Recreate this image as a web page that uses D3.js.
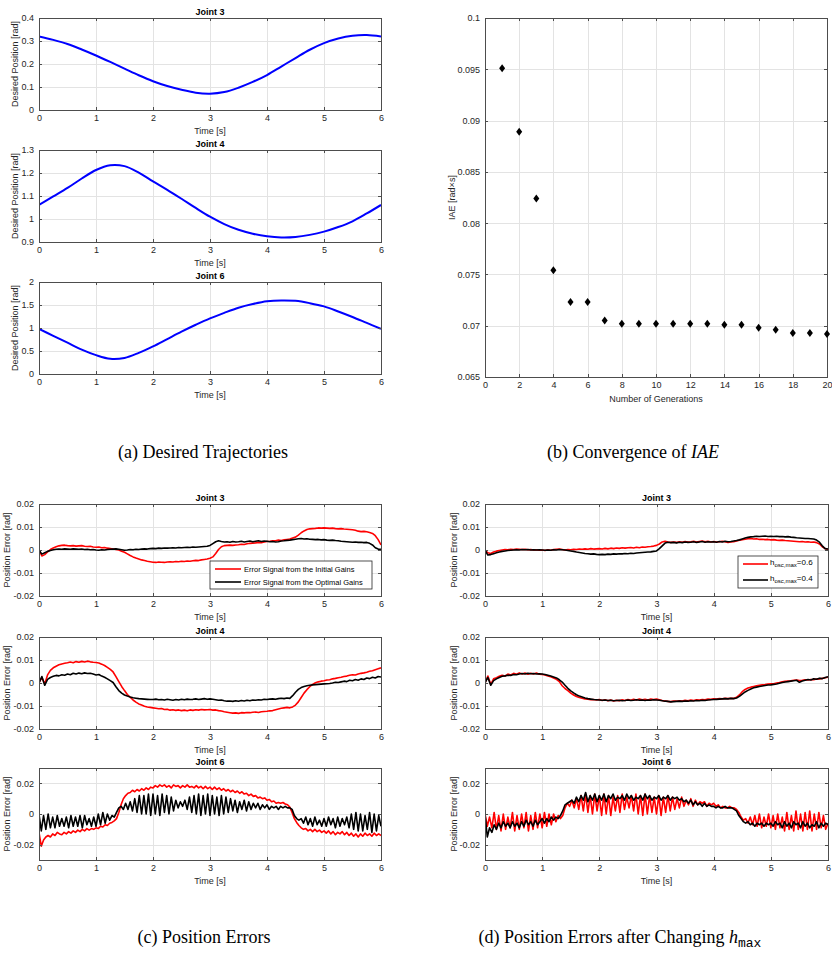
<!DOCTYPE html>
<html>
<head>
<meta charset="utf-8">
<script src="https://cdn.jsdelivr.net/npm/d3@7"></script>
<style>
body { margin: 0; background: #fff; }
svg { display: block; font-family: "Liberation Sans", Arial, sans-serif; }
.grid line { stroke: #e3e3e3; shape-rendering: crispEdges; }
.grid path { display: none; }
.ax path, .ax line { stroke: #4d4d4d; shape-rendering: crispEdges; }
.ax text { fill: #262626; font-size: 9px; }
</style>
</head>
<body>
<svg id="fig" width="832" height="956"></svg>
<script>
// ---- tick labels ----
const timeTicks = [0, 1, 2, 3, 4, 5, 6];
const ticksJ3 = [0, 0.1, 0.2, 0.3, 0.4];
const ticksJ4 = [0.9, 1, 1.1, 1.2, 1.3];
const ticksJ6 = [0, 0.5, 1, 1.5, 2];
const ticksErr = [-0.02, -0.01, 0, 0.01, 0.02];
const ticksErr6 = [-0.02, 0, 0.02];
const genTicks = [0, 2, 4, 6, 8, 10, 12, 14, 16, 18, 20];
const iaeTicks = [0.065, 0.07, 0.075, 0.08, 0.085, 0.09, 0.095, 0.1];

// ---- (a) desired trajectories [rad], sampled every 0.25 s ----
const traj3 = [0.320, 0.305, 0.287, 0.263, 0.237, 0.209, 0.180, 0.151, 0.125, 0.104, 0.088, 0.075, 0.071,
               0.078, 0.097, 0.122, 0.152, 0.189, 0.226, 0.262, 0.291, 0.311, 0.323, 0.326, 0.320];
const traj4 = [1.061, 1.098, 1.135, 1.176, 1.213, 1.234, 1.230, 1.202, 1.164, 1.127, 1.088, 1.048, 1.010,
               0.978, 0.953, 0.936, 0.925, 0.920, 0.922, 0.931, 0.945, 0.965, 0.990, 1.024, 1.061];
const traj6 = [0.98, 0.83, 0.68, 0.53, 0.41, 0.33, 0.35, 0.46, 0.60, 0.76, 0.92, 1.07, 1.21,
               1.33, 1.44, 1.52, 1.58, 1.60, 1.59, 1.54, 1.47, 1.36, 1.24, 1.11, 0.98];

// ---- (b) IAE per generation [rad x s] ----
const generations = d3.range(1, 21);
const iaeValues = [0.0951, 0.0889, 0.0824, 0.0754, 0.0723, 0.0723, 0.0705, 0.0702, 0.0702, 0.0702,
                   0.0702, 0.0702, 0.0702, 0.0701, 0.0701, 0.0698, 0.0696, 0.0693, 0.0693, 0.0692];

// ---- (c)/(d) position errors, in mrad; joints 3 & 4 every 0.05 s ----
const errC3Init = [0, -2.6, -2.0, -0.8, 0.2, 0.9, 1.4, 1.8, 2.0, 2.1, 1.9, 1.8, 1.9, 1.7, 1.8, 1.9, 1.6, 1.5, 1.6, 1.3,
  1.2, 1.3, 1.0, 1.1, 0.8, 0.6, 0.4, 0.2, 0.0, -0.5, -1.0, -1.7, -2.4, -3.0, -3.5, -3.9, -4.3, -4.6, -4.9, -5.1,
  -5.3, -5.4, -5.2, -5.3, -5.4, -5.2, -5.1, -5.2, -5.0, -5.1, -4.9, -5.0, -4.8, -4.9, -4.7, -4.5, -4.6, -4.3, -4.1, -3.9,
  -3.6, -3.0, -1.5, 0.2, 1.4, 1.9, 2.0, 2.1, 2.0, 2.2, 2.3, 2.5, 2.4, 2.7, 2.9, 3.0, 3.1, 3.3, 3.2, 3.5,
  3.7, 3.8, 4.0, 4.0, 4.3, 4.1, 4.4, 4.6, 4.8, 5.2, 5.6, 6.5, 7.5, 8.3, 8.9, 9.2, 9.3, 9.4, 9.6, 9.5,
  9.6, 9.5, 9.4, 9.5, 9.3, 9.2, 9.3, 9.1, 9.0, 8.9, 8.8, 8.6, 8.2, 8.0, 8.1, 7.9, 7.6, 7.2, 6.2, 4.5,
  2.2];
const errC3Opt = [0, -1.8, -1.2, -0.6, -0.2, 0.1, 0.3, 0.4, 0.3, 0.5, 0.4, 0.3, 0.5, 0.4, 0.3, 0.4, 0.2, 0.3, 0.1, 0.2,
  0.0, -0.1, 0.1, 0.0, 0.2, 0.3, 0.4, 0.5, 0.3, 0.1, -0.1, 0.0, 0.2, 0.1, 0.3, 0.2, 0.4, 0.5, 0.4, 0.6,
  0.7, 0.6, 0.8, 0.7, 0.9, 0.8, 0.9, 1.0, 0.9, 1.1, 1.0, 1.1, 1.2, 1.1, 1.3, 1.2, 1.3, 1.4, 1.5, 1.6,
  2.0, 2.8, 3.6, 4.0, 3.7, 3.5, 3.6, 3.4, 3.7, 3.5, 3.6, 3.8, 3.5, 3.7, 3.9, 3.6, 3.8, 4.0, 3.7, 3.9,
  3.8, 3.6, 3.7, 3.5, 3.6, 3.9, 4.0, 4.2, 4.3, 4.5, 4.7, 4.9, 5.0, 4.8, 4.9, 4.7, 4.6, 4.5, 4.6, 4.4,
  4.5, 4.3, 4.2, 4.3, 4.1, 4.0, 3.8, 3.7, 3.6, 3.5, 3.4, 3.5, 3.3, 3.4, 3.2, 3.3, 2.9, 2.2, 1.0, 0.4,
  0.3];
const errC4Init = [0, 2.5, -0.4, 3.5, 5.5, 6.6, 7.3, 7.9, 8.3, 8.6, 8.8, 9.1, 8.8, 9.3, 9.0, 9.4, 9.1, 9.5, 9.2, 9.0,
  8.9, 8.7, 8.2, 7.6, 6.8, 5.9, 4.8, 2.8, 0.6, -1.5, -3.3, -5.0, -6.2, -7.4, -8.3, -9.1, -9.6, -10.1, -10.4, -10.6,
  -10.8, -11.0, -11.2, -11.1, -11.5, -11.4, -11.8, -11.6, -11.9, -11.7, -12.0, -11.8, -12.1, -11.7, -11.9, -11.6, -11.8, -11.5, -11.7, -11.6,
  -11.5, -11.8, -11.7, -12.0, -12.2, -12.5, -12.7, -12.9, -13.1, -13.0, -13.2, -12.9, -13.0, -12.8, -12.9, -12.7, -12.6, -12.8, -12.5, -12.4,
  -12.3, -12.1, -12.0, -11.6, -11.3, -11.0, -10.8, -10.6, -10.8, -10.4, -9.6, -8.2, -6.3, -4.4, -2.9, -1.6, -0.6, 0.1, 0.5, 0.8,
  1.0, 1.3, 1.4, 1.8, 2.0, 2.3, 2.5, 2.8, 3.0, 3.4, 3.6, 3.5, 3.9, 4.2, 4.4, 4.7, 5.1, 5.3, 5.8, 6.2,
  6.6];
const errC4Opt = [0, 2.8, -1.0, 1.6, 2.4, 2.9, 3.3, 3.1, 3.6, 3.4, 3.9, 3.6, 4.2, 3.9, 4.3, 4.0, 4.4, 4.1, 4.2, 3.9,
  3.5, 3.7, 3.0, 2.5, 1.8, 1.0, 0.2, -1.6, -3.3, -4.4, -5.2, -5.7, -6.1, -6.4, -6.6, -6.8, -6.9, -7.0, -7.1, -7.2,
  -7.2, -7.0, -7.3, -7.2, -7.4, -7.1, -7.3, -7.5, -7.2, -7.4, -7.1, -7.3, -7.0, -7.2, -7.1, -6.9, -7.2, -7.0, -6.8, -7.1,
  -6.9, -7.1, -7.3, -7.5, -7.4, -7.7, -7.9, -7.8, -8.0, -7.7, -7.9, -7.6, -7.8, -7.5, -7.7, -7.4, -7.5, -7.3, -7.4, -7.1,
  -7.2, -7.0, -6.9, -7.1, -6.8, -6.6, -6.8, -6.5, -6.7, -5.5, -4.0, -2.8, -2.0, -1.5, -1.2, -1.0, -0.8, -0.7, -0.6, -0.5,
  -0.4, -0.3, -0.2, 0.0, 0.3, 0.2, 0.5, 0.8, 0.6, 1.2, 1.0, 1.5, 1.2, 1.8, 1.5, 2.2, 1.9, 2.5, 2.2, 2.8,
  2.6];
const errD3H06 = [0, -1.2, -1.5, -0.9, -0.5, -0.2, 0.0, 0.2, 0.1, 0.3, 0.2, 0.4, 0.3, 0.2, 0.3, 0.1, 0.2, 0.0, 0.1, -0.1,
  0.0, -0.2, 0.1, -0.1, 0.2, 0.3, 0.4, 0.2, 0.0, 0.2, 0.1, 0.3, 0.2, 0.4, 0.3, 0.5, 0.3, 0.6, 0.4, 0.5,
  0.6, 0.4, 0.7, 0.5, 0.8, 0.6, 0.9, 0.7, 1.0, 0.8, 1.0, 1.1, 0.9, 1.2, 1.0, 1.3, 1.2, 1.4, 1.5, 1.7,
  2.0, 2.6, 3.5, 3.8, 3.5, 3.3, 3.5, 3.3, 3.6, 3.4, 3.7, 3.5, 3.6, 3.8, 3.5, 3.7, 3.9, 3.6, 3.8, 3.5,
  3.7, 3.5, 3.6, 3.8, 3.6, 3.3, 3.5, 3.6, 3.9, 4.2, 4.5, 4.7, 4.9, 5.0, 4.8, 4.9, 4.6, 4.7, 4.5, 4.6,
  4.4, 4.5, 4.3, 4.2, 4.3, 4.1, 4.0, 3.9, 3.8, 3.7, 3.6, 3.7, 3.5, 3.6, 3.4, 3.5, 3.2, 2.6, 1.4, 0.6,
  0.3];
const errD3H04 = [0, -2.2, -2.0, -1.6, -1.2, -0.9, -0.6, -0.4, -0.2, -0.1, 0.0, 0.1, 0.0, 0.2, 0.1, 0.2, 0.0, 0.1, 0.0, 0.1,
  0.0, -0.1, 0.0, -0.1, 0.1, 0.0, 0.2, 0.1, 0.0, -0.2, -0.4, -0.6, -0.9, -1.1, -1.3, -1.5, -1.6, -1.8, -1.7, -1.9,
  -2.0, -1.9, -2.0, -1.8, -1.9, -1.7, -1.8, -1.6, -1.7, -1.5, -1.6, -1.4, -1.5, -1.3, -1.2, -1.1, -1.0, -0.9, -0.8, -0.6,
  -0.4, 0.6, 1.8, 3.0, 3.4, 3.2, 3.3, 3.1, 3.4, 3.2, 3.5, 3.3, 3.4, 3.6, 3.3, 3.5, 3.7, 3.4, 3.6, 3.5,
  3.6, 3.4, 3.7, 3.5, 3.8, 3.6, 3.7, 3.9, 4.1, 4.4, 4.8, 5.2, 5.5, 5.7, 5.8, 6.0, 5.9, 6.0, 6.1, 5.9,
  6.0, 5.9, 6.0, 5.8, 5.9, 5.7, 5.8, 5.6, 5.5, 5.3, 5.2, 5.1, 5.0, 5.0, 4.9, 4.8, 4.3, 3.4, 1.8, 0.6,
  0.4];
const errD4H06 = [0, 3.0, -0.6, 1.8, 2.3, 2.9, 3.4, 3.0, 3.9, 3.5, 4.2, 3.8, 4.4, 3.9, 4.3, 3.8, 4.2, 3.9, 4.3, 3.8,
  3.7, 3.5, 3.1, 2.7, 2.2, 1.6, 0.6, -1.2, -2.4, -3.3, -4.4, -5.2, -5.9, -6.3, -6.6, -6.9, -7.1, -7.3, -7.2, -7.4,
  -7.2, -7.6, -7.3, -7.7, -7.4, -7.8, -7.5, -7.7, -7.3, -7.6, -7.2, -7.5, -7.1, -7.4, -7.0, -7.3, -7.1, -7.4, -7.0, -7.2,
  -7.0, -7.3, -7.6, -7.8, -8.0, -8.1, -7.8, -7.9, -7.7, -7.8, -7.5, -7.7, -7.4, -7.6, -7.3, -7.4, -7.2, -7.3, -7.0, -7.1,
  -6.9, -7.0, -6.8, -6.9, -6.6, -6.8, -6.6, -6.7, -6.2, -5.2, -3.8, -2.8, -2.2, -1.8, -1.5, -1.2, -1.0, -0.8, -0.7, -0.5,
  -0.4, -0.3, 0.0, 0.2, 0.5, 0.7, 0.9, 1.0, 1.2, 1.3, 1.1, 1.2, 1.4, 1.3, 1.5, 1.4, 1.7, 1.8, 2.0, 2.3,
  2.5];
const errD4H04 = [0, 2.4, -1.0, 1.0, 1.8, 2.4, 2.9, 3.1, 3.4, 3.3, 3.7, 3.6, 3.9, 4.1, 3.9, 4.2, 4.0, 4.1, 3.9, 4.0,
  3.9, 3.7, 3.4, 3.0, 2.6, 2.2, 1.4, 0.4, -1.0, -2.3, -3.4, -4.3, -5.1, -5.7, -6.1, -6.5, -6.8, -7.0, -7.2, -7.3,
  -7.4, -7.5, -7.4, -7.6, -7.5, -7.7, -7.6, -7.5, -7.7, -7.6, -7.4, -7.6, -7.5, -7.3, -7.5, -7.4, -7.6, -7.4, -7.5, -7.3,
  -7.4, -7.5, -7.7, -7.9, -8.0, -8.2, -8.1, -8.0, -7.9, -8.0, -7.8, -7.9, -7.7, -7.8, -7.6, -7.7, -7.5, -7.6, -7.4, -7.3,
  -7.2, -7.1, -7.0, -6.9, -6.8, -6.9, -6.7, -6.8, -6.5, -5.8, -4.8, -3.9, -3.2, -2.6, -2.1, -1.8, -1.5, -1.3, -1.1, -0.9,
  -0.8, -0.6, -0.4, -0.1, 0.2, 0.4, 0.6, 0.8, 1.0, 1.2, 0.3, 0.9, 1.2, 1.5, 1.3, 1.8, 1.6, 2.1, 1.9, 2.4,
  2.7];

// joint 6 every 0.04 s (mrad)
const errC6Init = [-12, -21, -17, -15, -14, -15, -13, -14, -12, -13, -13.5, -12, -13, -11.5, -12.5, -11, -12, -10.5, -11.5, -10, -11, -9.5, -10.5, -9.5, -10,
  -9, -9.5, -8, -8.5, -7, -7.5, -6, -5.5, -4.5, -3, 1, 6, 10, 12, 13.5, 14, 15.5, 14.5, 16, 15, 16.5, 15.5, 17, 16, 17.5,
  17, 18.5, 17.5, 19, 18, 19, 17.5, 18.5, 17, 19, 18, 18.5, 17, 18.5, 17.5, 19, 17.5, 18, 17, 18.5, 17, 18, 16.5, 18, 16.5,
  17.5, 16, 17.5, 16, 17, 15.5, 16.5, 15, 16, 14.5, 15.5, 14, 15, 13.5, 14.5, 13, 13.5, 12, 13, 11.5, 12, 10.5, 11, 10, 10.5,
  9, 9.5, 8, 8.5, 7, 7.5, 7, 7.5, 6.5, 6, 4.5, 1, -3, -5.5, -7.5, -9, -10, -9.5, -11, -10, -11.5, -10, -11.5, -10.5, -12,
  -11, -12.5, -11, -13, -11.5, -13.5, -12, -13, -11.5, -13.5, -12, -14, -12.5, -14.5, -13, -15, -13, -14.5, -12.5, -14, -13, -14.5, -12.5, -14, -13,
  -14];
const errC6Opt = [0, -11, -1, -10, 0, -9, -2, -9, -1, -8, -3, -8, -2, -9, -1, -8, -2, -8, -1, -9, -1, -7, -3, -8, -2,
  -8, 0, -7, 1, -6, 0, -4, -1, -2, 1, 4, 5, 3, 7, 3, 8, 2, 10, 1, 12, 0, 12, 0, 13, -1,
  13, 0, 12, -1, 13, 1, 12, 0, 11, 2, 9, 4, 8, 5, 9, 3, 11, 1, 12, 0, 13, -1, 12, 0, 13,
  -1, 12, 0, 11, -1, 12, 0, 11, 1, 10, 2, 9, 1, 8, 3, 9, 2, 8, 3, 7, 4, 7, 3, 6, 4,
  6, 3, 5, 4, 5, 3, 5, 4, 5, 4, 4, 3, -1, -3, -4, -3, -6, -2, -7, -3, -8, -2, -7, -4, -8,
  -3, -8, -2, -7, -3, -9, -2, -8, -3, -7, -2, -9, 0, -10, 1, -11, 0, -11, -1, -10, 1, -12, 0, -11, -1,
  -8];
const errD6H06 = [0, -8, -2, -9, 1, -10, -1, -11, 0, -10, -2, -9, 1, -11, -1, -10, 0, -9, 1, -11, -1, -10, 1, -9, 0,
  -9, 1, -8, 0, -7, 0, -5, -1, -3, -1, 4, 7, 5, 9, 4, 10, 3, 12, 2, 13, 1, 12, 0, 13, 2,
  12, -1, 13, 0, 12, -1, 11, 2, 12, 1, 13, 3, 11, 4, 12, 2, 13, 0, 12, -1, 13, 0, 12, 1, 11,
  0, 12, -1, 11, 1, 12, 2, 11, 3, 10, 4, 11, 5, 9, 6, 10, 5, 9, 6, 8, 7, 8, 5, 7, 6,
  7, 5, 6, 4, 5, 4, 4, 5, 4, 4, 3, 1, -2, -4, -3, -6, -2, -7, -1, -8, 0, -9, -2, -8, 0,
  -9, -1, -10, 0, -9, -2, -11, 1, -10, -1, -11, 2, -10, 0, -11, 1, -10, 2, -11, 0, -10, 1, -9, -1, -10,
  -6];
const errD6H04 = [0, -15, -9, -12, -7, -10, -6, -9, -5, -8, -6, -9, -5, -8, -6, -9, -5, -8, -4, -7, -5, -8, -4, -7, -5,
  -3, -6, -3, -5, -2, -4, -2, -3, -1, 2, 6, 7, 8, 9, 7, 11, 8, 12, 9, 14, 8, 12, 9, 13, 8,
  12, 9, 13, 8, 12, 10, 13, 9, 11, 10, 12, 9, 13, 10, 12, 9, 11, 10, 12, 9, 13, 10, 12, 9, 11,
  10, 12, 9, 11, 10, 12, 9, 11, 10, 11, 9, 10, 8, 9, 7, 9, 6, 8, 6, 7, 5, 7, 5, 6, 5,
  5, 4, 5, 4, 4, 5, 4, 4, 4, 3, 2, -1, -3, -5, -6, -5, -7, -6, -8, -6, -7, -6, -8, -6, -7,
  -6, -8, -5, -7, -6, -9, -5, -8, -6, -9, -5, -7, -6, -9, -5, -8, -6, -9, -7, -8, -5, -9, -6, -8, -6,
  -7];

const svg = d3.select('#fig');
const fmt = d => String(+d.toFixed(6));
let clipId = 0;

function makePanel(cfg) {
    const w = cfg.width, h = cfg.height;
    const g = svg.append('g').attr('transform', `translate(${cfg.left},${cfg.top})`);
    const x = d3.scaleLinear().domain(cfg.xdomain).range([0, w]);
    const y = d3.scaleLinear().domain(cfg.ydomain).range([h, 0]);

    g.append('g').attr('class', 'grid').attr('transform', `translate(0,${h})`)
        .call(d3.axisBottom(x).tickValues(cfg.xticks).tickSize(-h).tickFormat(''));
    g.append('g').attr('class', 'grid')
        .call(d3.axisLeft(y).tickValues(cfg.yticks).tickSize(-w).tickFormat(''));

    const id = 'clip' + (clipId++);
    g.append('clipPath').attr('id', id).append('rect').attr('width', w).attr('height', h);
    const plot = g.append('g').attr('clip-path', `url(#${id})`);

    // axes box with inward ticks
    g.append('g').attr('class', 'ax').attr('transform', `translate(0,${h})`)
        .call(d3.axisBottom(x).tickValues(cfg.xticks).tickSize(-3).tickSizeOuter(0).tickPadding(5).tickFormat(fmt));
    g.append('g').attr('class', 'ax')
        .call(d3.axisLeft(y).tickValues(cfg.yticks).tickSize(-3).tickSizeOuter(0).tickPadding(5).tickFormat(fmt));
    g.append('g').attr('class', 'ax')
        .call(d3.axisTop(x).tickValues(cfg.xticks).tickSize(-3).tickSizeOuter(0).tickFormat(''));
    g.append('g').attr('class', 'ax').attr('transform', `translate(${w},0)`)
        .call(d3.axisRight(y).tickValues(cfg.yticks).tickSize(-3).tickSizeOuter(0).tickFormat(''));

    if (cfg.title) {
        g.append('text').attr('x', w / 2).attr('y', -3)
            .attr('text-anchor', 'middle').attr('font-size', '9px').attr('font-weight', 'bold')
            .attr('fill', '#000').text(cfg.title);
    }
    g.append('text').attr('x', w / 2).attr('y', h + cfg.xlabelY)
        .attr('text-anchor', 'middle').attr('font-size', '9px').attr('fill', '#262626')
        .text(cfg.xlabel);
    g.append('text').attr('transform', `translate(${cfg.ylabelX},${h / 2}) rotate(-90)`)
        .attr('text-anchor', 'middle').attr('dy', '0.35em').attr('font-size', '9px').attr('fill', '#262626')
        .text(cfg.ylabel);

    return { g, plot, x, y, w, h };
}

function addSeries(p, values, step, color, width, scale, curve) {
    const line = d3.line()
        .x((d, i) => p.x(i * step))
        .y(d => p.y(d * scale))
        .curve(curve || d3.curveLinear);
    p.plot.append('path').datum(values)
        .attr('d', line).attr('fill', 'none')
        .attr('stroke', color).attr('stroke-width', width)
        .attr('stroke-linejoin', 'round');
}

// ---------- (a) ----------
const trajCfg = [
    { top: 18, title: 'Joint 3', ydomain: [0, 0.4], yticks: ticksJ3, data: traj3 },
    { top: 150, title: 'Joint 4', ydomain: [0.9, 1.3], yticks: ticksJ4, data: traj4 },
    { top: 282, title: 'Joint 6', ydomain: [0, 2], yticks: ticksJ6, data: traj6 }
];
trajCfg.forEach(c => {
    const p = makePanel({
        left: 39, top: c.top, width: 342, height: 92,
        xdomain: [0, 6], xticks: timeTicks, ydomain: c.ydomain, yticks: c.yticks,
        title: c.title, xlabel: 'Time [s]', xlabelY: 24, ylabel: 'Desired Position [rad]', ylabelX: -24
    });
    addSeries(p, c.data, 0.25, '#0000ff', 2, 1, d3.curveCatmullRom);
});

// ---------- (b) ----------
const pb = makePanel({
    left: 485, top: 18, width: 342, height: 359,
    xdomain: [0, 20], xticks: genTicks, ydomain: [0.065, 0.1], yticks: iaeTicks,
    title: '', xlabel: 'Number of Generations', xlabelY: 25, ylabel: 'IAE [rad\u00d7s]', ylabelX: -33
});
pb.g.selectAll('path.marker')
    .data(generations)
    .join('path')
    .attr('class', 'marker')
    .attr('transform', (d, i) => `translate(${pb.x(d)},${pb.y(iaeValues[i])})`)
    .attr('d', 'M0,-4L3,0L0,4L-3,0Z')
    .attr('fill', '#000');

// ---------- (c) and (d) ----------
const errRows = [
    { top: 504, title: 'Joint 3', ydomain: [-0.02, 0.02], yticks: ticksErr, step: 0.05,
      c: [errC3Init, errC3Opt], d: [errD3H06, errD3H04] },
    { top: 637, title: 'Joint 4', ydomain: [-0.02, 0.02], yticks: ticksErr, step: 0.05,
      c: [errC4Init, errC4Opt], d: [errD4H06, errD4H04] },
    { top: 768, title: 'Joint 6', ydomain: [-0.03, 0.03], yticks: ticksErr6, step: 0.04,
      c: [errC6Init, errC6Opt], d: [errD6H06, errD6H04] }
];
const errPanels = { c: [], d: [] };
errRows.forEach(r => {
    [['c', 39, -32], ['d', 485, -31]].forEach(([k, left, ylx]) => {
        const p = makePanel({
            left: left, top: r.top, width: k === 'c' ? 342 : 343, height: 92,
            xdomain: [0, 6], xticks: timeTicks, ydomain: r.ydomain, yticks: r.yticks,
            title: r.title, xlabel: 'Time [s]', xlabelY: 24, ylabel: 'Position Error [rad]', ylabelX: ylx
        });
        addSeries(p, r[k][0], r.step, '#ff0000', 1.6, 0.001);
        addSeries(p, r[k][1], r.step, '#000000', 1.6, 0.001);
        errPanels[k].push(p);
    });
});

// legends
function legendBox(p, bx, by, bw, bh) {
    const lg = p.g.append('g').attr('transform', `translate(${bx},${by})`);
    lg.append('rect').attr('width', bw).attr('height', bh)
        .attr('fill', '#fff').attr('stroke', '#262626').attr('stroke-width', 0.8);
    return lg;
}
const lc = legendBox(errPanels.c[0], 171, 57, 162, 28);
[['#ff0000', 'Error Signal from the Initial Gains', 8], ['#000000', 'Error Signal from the Optimal Gains', 21]].forEach(([col, txt, yy]) => {
    lc.append('line').attr('x1', 5).attr('x2', 31).attr('y1', yy).attr('y2', yy)
        .attr('stroke', col).attr('stroke-width', 1.6);
    lc.append('text').attr('x', 34).attr('y', yy).attr('dy', '0.35em')
        .attr('font-size', '7.5px').attr('fill', '#000').text(txt);
});
const ld = legendBox(errPanels.d[0], 253, 52, 80, 32);
[['#ff0000', '0.6', 8], ['#000000', '0.4', 24]].forEach(([col, val, yy]) => {
    ld.append('line').attr('x1', 5).attr('x2', 30).attr('y1', yy).attr('y2', yy)
        .attr('stroke', col).attr('stroke-width', 1.6);
    const t = ld.append('text').attr('x', 32).attr('y', yy + 1).attr('font-size', '8px').attr('fill', '#000');
    t.append('tspan').text('h');
    t.append('tspan').attr('font-size', '6px').attr('dy', 2).text('osc,max');
    t.append('tspan').attr('dy', -2).text('=' + val);
});

// captions
function caption(cx, cy, parts) {
    const t = svg.append('text').attr('x', cx).attr('y', cy).attr('text-anchor', 'middle')
        .attr('font-family', '"Liberation Serif", "Times New Roman", serif').attr('font-size', '18px').attr('fill', '#000');
    parts.forEach(p => {
        const s = t.append('tspan').text(p.t);
        if (p.i) s.attr('font-style', 'italic');
        if (p.mono) s.attr('font-family', '"Liberation Mono", monospace').attr('font-size', '13px');
        if (p.dy) s.attr('dy', p.dy);
    });
}
caption(203, 458, [{ t: '(a) Desired Trajectories' }]);
caption(633, 458, [{ t: '(b) Convergence of ' }, { t: 'IAE', i: true }]);
caption(204, 943, [{ t: '(c) Position Errors' }]);
caption(620, 943, [{ t: '(d) Position Errors after Changing ' }, { t: 'h', i: true }, { t: 'max', mono: true, dy: 4 }]);
</script>
</body>
</html>
